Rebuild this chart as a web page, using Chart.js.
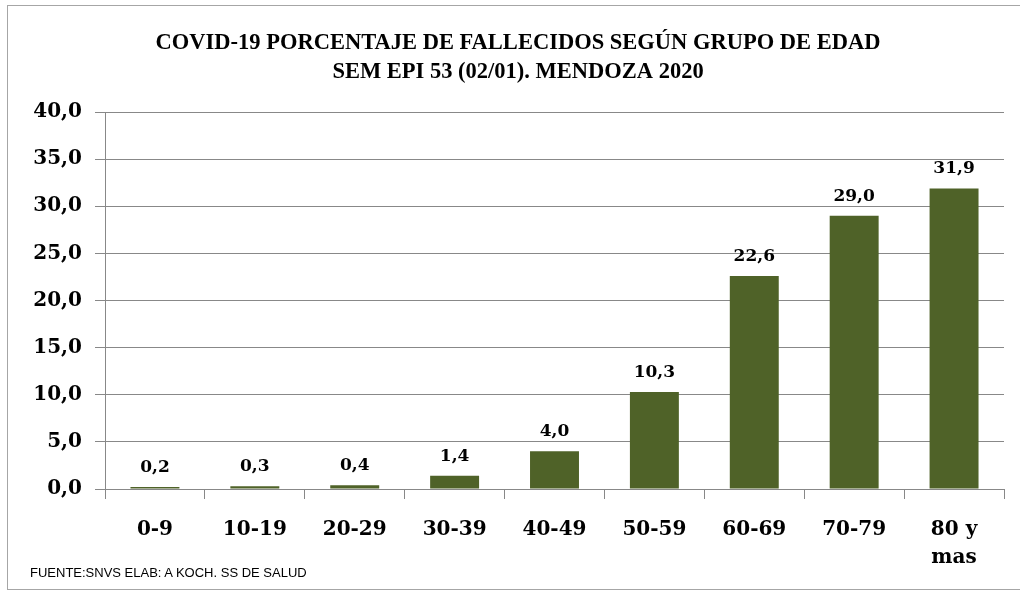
<!DOCTYPE html>
<html>
<head>
<meta charset="utf-8">
<script src="https://cdn.jsdelivr.net/npm/chart.js@4"></script>
<style>
  html, body { margin: 0; padding: 0; background: #fff; }
  #wrap { position: relative; width: 1020px; height: 593px; }
  #frame { position: absolute; left: 7px; top: 5px; width: 1020px; height: 585px; border: 1px solid #a6a6a6; box-sizing: border-box; }
  #fuente { position: absolute; left: 30px; top: 565px; font-family: "Liberation Sans", sans-serif; font-size: 13px; line-height: 15px; color: #000; }
</style>
</head>
<body>
<div id="wrap">
  <div id="frame"></div>
  <canvas id="chart" width="1020" height="593"></canvas>
  <div id="fuente">FUENTE:SNVS ELAB: A KOCH. SS DE SALUD</div>
</div>
<script>
const categories = ["0-9", "10-19", "20-29", "30-39", "40-49", "50-59", "60-69", "70-79", ["80 y", "mas"]];
const porcentajes = [0.2, 0.3, 0.4, 1.4, 4.0, 10.3, 22.6, 29.0, 31.9];
const titleLines = ["COVID-19 PORCENTAJE DE FALLECIDOS SEGÚN GRUPO DE EDAD", "SEM EPI 53 (02/01). MENDOZA 2020"];

const coma = (v) => v.toFixed(1).replace(".", ",");

// etiquetas de valor sobre cada barra
const valueLabels = {
  id: "valueLabels",
  afterDatasetsDraw(chart) {
    const ctx = chart.ctx;
    const meta = chart.getDatasetMeta(0);
    ctx.save();
    ctx.font = "bold 17px 'DejaVu Serif', serif";
    ctx.fillStyle = "#000";
    ctx.textAlign = "center";
    ctx.textBaseline = "alphabetic";
    meta.data.forEach((bar, i) => {
      ctx.fillText(coma(porcentajes[i]), bar.x, bar.y - 15);
    });
    ctx.restore();
  },
};

const ctx = document.getElementById("chart").getContext("2d");
new Chart(ctx, {
  type: "bar",
  data: {
    labels: categories,
    datasets: [
      {
        data: porcentajes,
        backgroundColor: "#4f6228",
        barPercentage: 0.49,
        categoryPercentage: 1.0,
      },
    ],
  },
  options: {
    responsive: false,
    animation: false,
    layout: { padding: { left: 32, right: 16, top: 0, bottom: 0 } },
    plugins: {
      legend: { display: false },
      tooltip: { enabled: false },
      title: {
        display: true,
        text: titleLines,
        color: "#000",
        font: { family: "'Liberation Serif', serif", size: 22.5, weight: "bold", lineHeight: 1.29 },
        padding: { top: 29, bottom: 25 },
      },
    },
    scales: {
      x: {
        grid: { display: true, drawOnChartArea: false, drawTicks: true, tickLength: 10, offset: true, color: "#888" },
        border: { color: "#888" },
        ticks: {
          color: "#000",
          font: { family: "'DejaVu Serif', serif", size: 20, weight: "bold", lineHeight: 1.4 },
          padding: 17,
          maxRotation: 0,
        },
        afterFit(scale) { scale.height = 104; },
      },
      y: {
        min: 0,
        max: 40,
        ticks: {
          stepSize: 5,
          color: "#000",
          font: { family: "'DejaVu Serif', serif", size: 20, weight: "bold" },
          padding: 13,
          callback: (v) => coma(v),
        },
        grid: { color: "#888", tickLength: 10 },
        border: { color: "#888" },
        afterFit(scale) { scale.width = 73; },
      },
    },
  },
  plugins: [valueLabels],
});
</script>
</body>
</html>
